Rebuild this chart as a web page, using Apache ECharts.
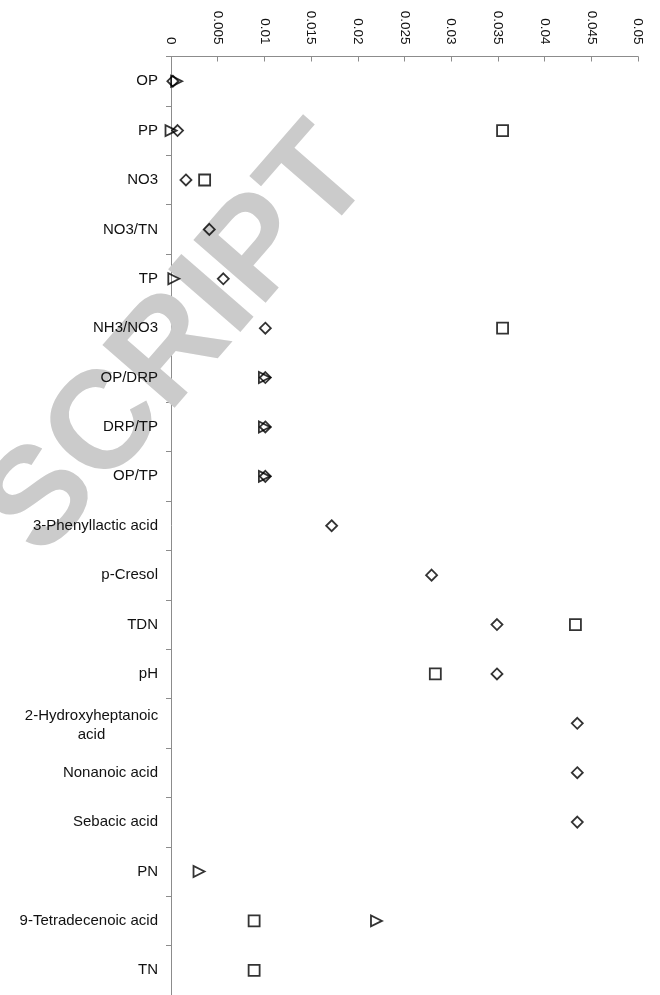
<!DOCTYPE html>
<html>
<head>
<meta charset="utf-8">
<script src="https://cdn.jsdelivr.net/npm/echarts@6/dist/echarts.min.js"></script>
<style>
  html, body { margin: 0; padding: 0; background: #fff; }
  #chart { width: 660px; height: 995px; }
</style>
</head>
<body>
<div id="chart"></div>
<script>
// categories, top to bottom
var categories = ['OP', 'PP', 'NO3', 'NO3/TN', 'TP', 'NH3/NO3', 'OP/DRP', 'DRP/TP', 'OP/TP',
  '3-Phenyllactic acid', 'p-Cresol', 'TDN', 'pH', '2-Hydroxyheptanoic\nacid', 'Nonanoic acid',
  'Sebacic acid', 'PN', '9-Tetradecenoic acid', 'TN'];

// diamonds
var diamondVals = [0.0002, 0.0007, 0.0016, 0.0041, 0.0056, 0.0101, 0.0101, 0.0101, 0.0101,
  0.0172, 0.0279, 0.0349, 0.0349, 0.0435, 0.0435, 0.0435, null, null, null];
// squares
var squareVals = [null, 0.0355, 0.0036, null, null, 0.0355, null, null, null,
  null, null, 0.0433, 0.0283, null, null, null, null, 0.0089, 0.0089];
// triangles
var triangleVals = [0.0006, 0.0, null, null, 0.0003, null, 0.0100, 0.0100, 0.0100,
  null, null, null, null, null, null, null, 0.0030, 0.0220, null];

var xTickLabels = ['0', '0.005', '0.01', '0.015', '0.02', '0.025', '0.03', '0.035', '0.04', '0.045', '0.05'];

var font = '"Liberation Sans", Arial, Helvetica, sans-serif';

function pairs(vals) {
  var out = [];
  vals.forEach(function (v, i) { if (v !== null) out.push([v, i]); });
  return out;
}

var markStyle = { color: 'transparent', borderColor: '#000', borderWidth: 1.8 };
var axisGray = '#8c8c8c';

var chart = echarts.init(document.getElementById('chart'));
chart.setOption({
  animation: false,
  backgroundColor: '#fff',
  // watermark sits over the axis line but under labels and marks
  graphic: [{
    type: 'text',
    z: 1,
    silent: true,
    x: 180, y: 343,
    rotation: 49 * Math.PI / 180,
    style: {
      text: 'SCRIPT',
      fill: '#cbcbcb',
      font: 'bold 139px ' + font,
      align: 'center',
      verticalAlign: 'middle'
    }
  }],
  grid: { left: 171, right: 22, top: 56.5, bottom: 0, containLabel: false },
  xAxis: {
    type: 'value',
    position: 'top',
    min: 0, max: 0.05, interval: 0.005,
    splitLine: { show: false },
    axisLine: { show: true, lineStyle: { color: axisGray, width: 1 } },
    axisTick: { show: true, inside: true, length: 5, lineStyle: { color: axisGray } },
    axisLabel: {
      rotate: 90, margin: 12, color: '#111', fontFamily: font, fontSize: 13.5,
      formatter: function (v) { return xTickLabels[Math.round(v / 0.005)]; }
    }
  },
  yAxis: [{
    // line and ticks
    type: 'category',
    inverse: true,
    data: categories,
    z: 0,
    axisLine: { show: true, lineStyle: { color: axisGray, width: 1 } },
    axisTick: { show: true, length: 5, lineStyle: { color: axisGray } },
    axisLabel: { show: false }
  }, {
    // labels only, drawn above the watermark
    type: 'category',
    inverse: true,
    position: 'left',
    data: categories,
    z: 3,
    axisLine: { show: false },
    axisTick: { show: false },
    axisLabel: {
      margin: 13, color: '#111', fontFamily: font, fontSize: 15, lineHeight: 18,
      formatter: function (v) {
        return v.indexOf('\n') >= 0 ? '{c|' + v + '}' : v;
      },
      rich: { c: { width: 133, align: 'center', fontSize: 15, lineHeight: 19, fontFamily: font, color: '#111', padding: [4, 0, 0, 0] } }
    }
  }],
  series: [{
    name: 'diamond', type: 'scatter', symbol: 'diamond', symbolSize: [11, 11], z: 4,
    itemStyle: markStyle, data: pairs(diamondVals)
  }, {
    name: 'square', type: 'scatter', symbol: 'rect', symbolSize: [11, 11], z: 4,
    itemStyle: markStyle, data: pairs(squareVals)
  }, {
    name: 'triangle', type: 'scatter', symbol: 'triangle', symbolSize: [11, 11], symbolRotate: -90, z: 4,
    itemStyle: markStyle, data: pairs(triangleVals)
  }]
});
</script>
</body>
</html>
